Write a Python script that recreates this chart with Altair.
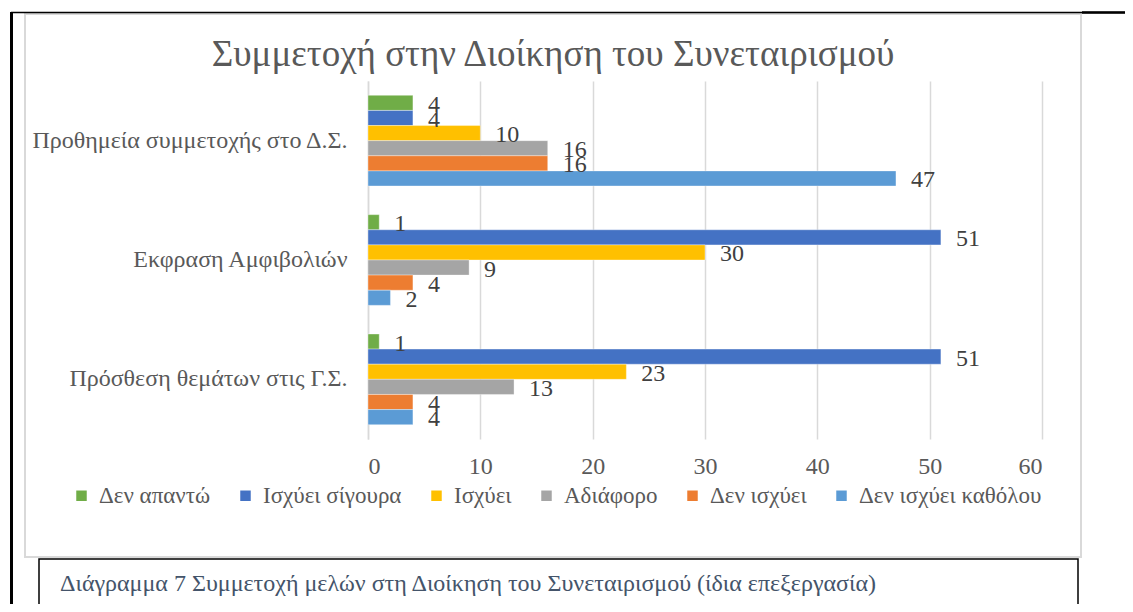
import altair as alt
import pandas as pd

categories = ["Προθημεία συμμετοχής στο Δ.Σ.", "Εκφραση Αμφιβολιών", "Πρόσθεση θεμάτων στις Γ.Σ."]
series = ["Δεν απαντώ", "Ισχύει σίγουρα", "Ισχύει", "Αδιάφορο", "Δεν ισχύει", "Δεν ισχύει καθόλου"]
colors = ["#70AD47", "#4472C4", "#FFC000", "#A5A5A5", "#ED7D31", "#5B9BD5"]
values = {
    "Δεν απαντώ": [4, 1, 1],
    "Ισχύει σίγουρα": [4, 51, 51],
    "Ισχύει": [10, 30, 23],
    "Αδιάφορο": [16, 9, 13],
    "Δεν ισχύει": [16, 4, 4],
    "Δεν ισχύει καθόλου": [47, 2, 4],
}
x_ticks = [0, 10, 20, 30, 40, 50, 60]
title_text = "Συμμετοχή στην Διοίκηση του Συνεταιρισμού"
caption_text = "Διάγραμμα 7 Συμμετοχή μελών στη Διοίκηση του Συνεταιρισμού (ίδια επεξεργασία)"

rows = []
for s in series:
    for c, v in zip(categories, values[s]):
        rows.append({"cat": c, "series": s, "value": v})
df = pd.DataFrame(rows)

# layout (page pixels)
PL, PT = 368, 81          # plot origin on page
W, H = 674, 358
SVG_W, SVG_H = 1117, 596
FONT = "Liberation Serif"


def px(x):
    return x - PL


def py(y):
    return y - PT


one = alt.Data(values=[{}])

y_enc = alt.Y("cat:N", sort=categories,
              scale=alt.Scale(paddingInner=0.24, paddingOuter=0.12),
              axis=alt.Axis(title=None, labelFont=FONT, labelFontSize=24, labelColor="#595959",
                            labelPadding=21, ticks=False, domain=True, domainColor="#D9D9D9",
                            domainWidth=1.5, labelLimit=400))
x_enc = alt.X("value:Q", scale=alt.Scale(domain=[0, 60], nice=False),
              axis=alt.Axis(title=None, values=x_ticks, labelFont=FONT, labelFontSize=24,
                            labelColor="#595959", labelPadding=15, ticks=False, domain=False,
                            grid=True, gridColor="#D9D9D9", gridWidth=1.5))
yoff = alt.YOffset("series:N", sort=series, scale=alt.Scale(paddingInner=0, paddingOuter=0))

bars = alt.Chart(df).mark_bar(stroke="white", strokeWidth=0.6, strokeOpacity=0.6).encode(
    y=y_enc, x=x_enc, yOffset=yoff,
    color=alt.Color("series:N", sort=series,
                    scale=alt.Scale(domain=series, range=colors),
                    legend=alt.Legend(title=None, orient="none", direction="horizontal",
                                      legendX=px(70), legendY=py(484), columns=6,
                                      symbolType="square", symbolSize=110, symbolStrokeWidth=0,
                                      labelFont=FONT, labelFontSize=23, labelColor="#595959",
                                      labelOffset=6, columnPadding=23, labelLimit=400)),
)

labels = alt.Chart(df).mark_text(align="left", baseline="middle", dx=15, dy=2,
                                  font=FONT, fontSize=24, color="#404040").encode(
    y=alt.Y("cat:N", sort=categories), x="value:Q", yOffset=yoff, text="value:Q",
)

gray_frame = alt.Chart(one).mark_rect(fill=None, stroke="#D9D9D9", strokeWidth=2).encode(
    x=alt.value(px(25)), x2=alt.value(px(1081)), y=alt.value(py(14)), y2=alt.value(py(557)))
caption_box = alt.Chart(one).mark_rect(fill="white", stroke="black", strokeWidth=1.5).encode(
    x=alt.value(px(39)), x2=alt.value(px(1078)), y=alt.value(py(559)), y2=alt.value(py(640)))
top_line = alt.Chart(one).mark_rule(color="black", strokeWidth=1.5).encode(
    x=alt.value(px(11)), x2=alt.value(px(1140)), y=alt.value(py(12.5)))
top_line_r = alt.Chart(one).mark_rule(color="black", strokeWidth=2.5).encode(
    x=alt.value(px(1082)), x2=alt.value(px(1140)), y=alt.value(py(12.5)))
left_line = alt.Chart(one).mark_rule(color="black", strokeWidth=3).encode(
    x=alt.value(px(11.5)), y=alt.value(py(12)), y2=alt.value(py(640)))

title = alt.Chart(one).mark_text(align="center", baseline="alphabetic", font=FONT, fontSize=37,
                                 color="#595959").encode(
    x=alt.value(px(553)), y=alt.value(py(66)), text=alt.value(title_text))
caption = alt.Chart(one).mark_text(align="left", baseline="alphabetic", font=FONT, fontSize=24,
                                   color="#44546A").encode(
    x=alt.value(px(60)), y=alt.value(py(591)), text=alt.value(caption_text))

chart = alt.layer(gray_frame, caption_box, top_line, top_line_r, left_line, title, caption,
                  bars, labels).properties(
    width=W, height=H,
    autosize=alt.AutoSizeParams(type="none"),
    padding={"left": PL - 8, "top": PT - 8, "right": SVG_W - (PL - 8) - W,
             "bottom": SVG_H - (PT - 8) - H},
    background="white",
).configure_view(stroke=None)

chart.save("out.html", embed_options={"renderer": "svg", "actions": False})
